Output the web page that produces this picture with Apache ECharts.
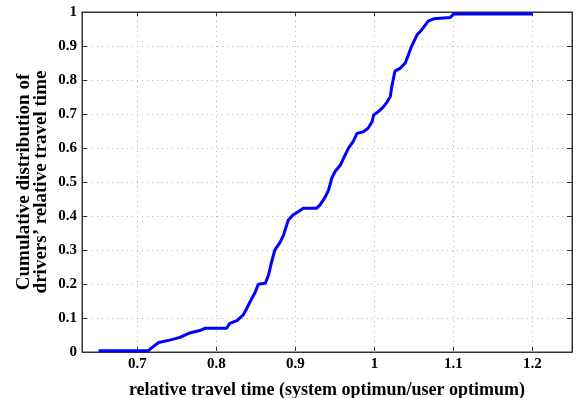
<!DOCTYPE html>
<html>
<head>
<meta charset="utf-8">
<script src="https://cdn.jsdelivr.net/npm/echarts@6/dist/echarts.min.js"></script>
<style>html,body{margin:0;padding:0;background:#fff}#c{width:584px;height:398px}</style>
</head>
<body>
<div id="c"></div>
<script>
var relTime = [0.651,0.714,0.718,0.727,0.741,0.754,0.765,0.779,0.786,0.813,0.817,0.826,0.834,0.838,0.845,0.849,0.853,0.862,0.866,0.870,0.874,0.881,0.885,0.891,0.897,0.904,0.910,0.927,0.931,0.938,0.942,0.946,0.950,0.957,0.961,0.967,0.973,0.978,0.986,0.992,0.997,0.999,1.005,1.011,1.016,1.020,1.022,1.026,1.033,1.039,1.043,1.047,1.054,1.060,1.068,1.075,1.096,1.100,1.200];
var cumDist = [0.004,0.004,0.012,0.028,0.035,0.043,0.055,0.063,0.070,0.070,0.084,0.092,0.109,0.126,0.158,0.175,0.199,0.202,0.226,0.266,0.300,0.324,0.344,0.388,0.403,0.413,0.423,0.423,0.432,0.457,0.476,0.511,0.530,0.550,0.570,0.599,0.619,0.643,0.648,0.658,0.677,0.697,0.707,0.720,0.735,0.751,0.781,0.826,0.835,0.850,0.874,0.899,0.933,0.948,0.973,0.980,0.984,0.994,0.994];
var xTicks = [0.7,0.8,0.9,1,1.1,1.2];
var xLabel = 'relative travel time (system optimun/user optimum)';
var yLabel = 'Cumulative distribution of\ndrivers\u2019 relative travel time';

var data = relTime.map(function(x,i){return [x,cumDist[i]];});
var chart = echarts.init(document.getElementById('c'));
var font = 'Liberation Serif';
var tickStyle = {color:'#333',width:1};
function xAx(pos, main){
  return {
    type:'value',position:pos,min:0.63,max:1.25,interval:0.01,
    axisLine:{show:true,onZero:false,lineStyle:{color:'#333',width:1}},
    axisTick:{show:true,inside:true,length:5,lineStyle:tickStyle,customValues:xTicks},
    axisLabel:{show:main,fontFamily:font,fontWeight:'bold',fontSize:15,color:'#000',margin:5,customValues:xTicks,
      formatter:function(v){return String(Math.round(v*10)/10);}},
    splitLine:{show:false},
    name:main?xLabel:'',nameLocation:'middle',nameGap:29,
    nameTextStyle:{fontFamily:font,fontWeight:'bold',fontSize:18,color:'#000'}
  };
}
function yAx(pos, main){
  return {
    type:'value',position:pos,min:0,max:1,interval:0.1,
    axisLine:{show:true,onZero:false,lineStyle:{color:'#333',width:1}},
    axisTick:{show:true,inside:true,length:5,lineStyle:tickStyle},
    axisLabel:{show:main,fontFamily:font,fontWeight:'bold',fontSize:15,color:'#000',margin:5,
      formatter:function(v){return String(Math.round(v*10)/10);}},
    splitLine:{show:main,lineStyle:{color:'#b8b8b8',type:[1,4],width:1}},
    name:main?yLabel:'',nameLocation:'middle',nameGap:32,nameRotate:90,nameMoveOverlap:false,
    nameTextStyle:{fontFamily:font,fontWeight:'bold',fontSize:19,color:'#000',lineHeight:17}
  };
}
chart.setOption({
  animation:false,
  grid:{left:82,right:12,top:12,bottom:46,outerBoundsMode:'none',containLabel:false,show:true,borderColor:'#333',borderWidth:1,backgroundColor:'transparent'},
  xAxis:[xAx('bottom',true),xAx('top',false)],
  yAxis:[yAx('left',true),yAx('right',false)],
  series:[{
    type:'line',data:data,showSymbol:false,xAxisIndex:0,yAxisIndex:0,
    lineStyle:{color:'#0000ff',width:3},
    markLine:{silent:true,symbol:'none',label:{show:false},
      lineStyle:{color:'#b8b8b8',type:[1,4],width:1},
      data:xTicks.map(function(t){return {xAxis:t};})},
    z:5
  },{
    type:'line',data:[],xAxisIndex:1,yAxisIndex:1
  }]
});
</script>
</body>
</html>
